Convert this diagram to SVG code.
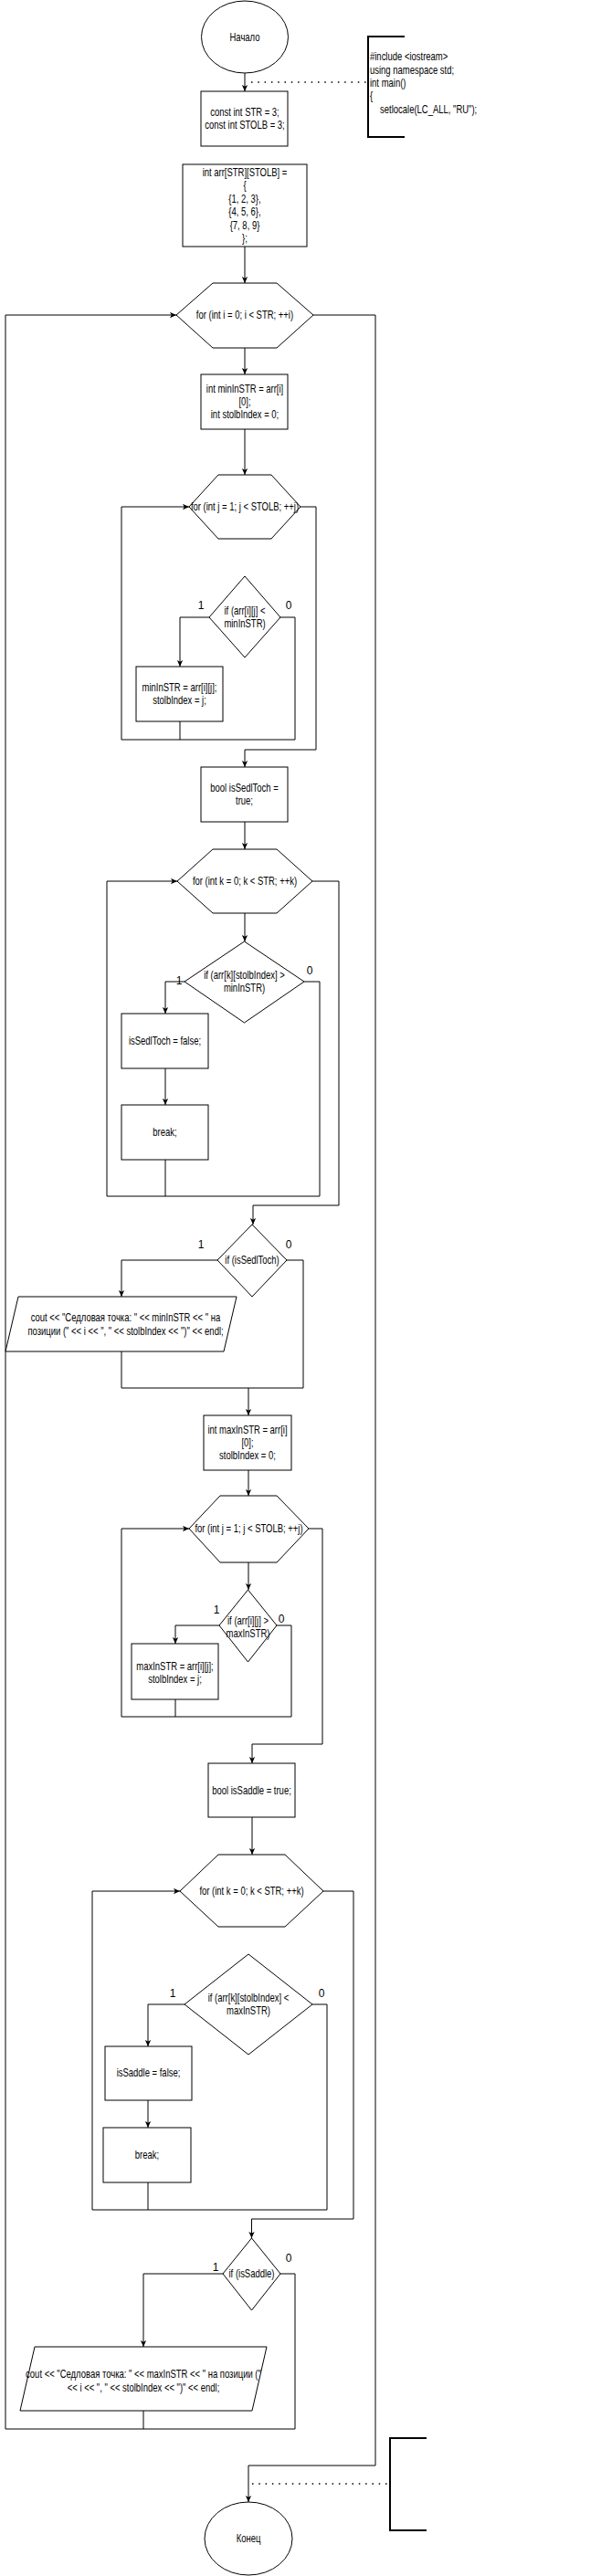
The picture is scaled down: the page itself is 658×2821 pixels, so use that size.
<svg xmlns="http://www.w3.org/2000/svg" width="658" height="2821" viewBox="0 0 658 2821">
<style>
.s{fill:#fff;stroke:#000;stroke-width:1}
.e{fill:none;stroke:#000;stroke-width:1}
.d{fill:none;stroke:#000;stroke-width:1.5;stroke-dasharray:1.5 5.8}
.b{fill:none;stroke:#000;stroke-width:2}
text{font-family:"Liberation Sans",Arial,Helvetica,sans-serif;font-size:12px;fill:#000;text-anchor:middle}
text.l{text-anchor:start}
</style>
<defs>
<marker id="a" viewBox="0 0 10 10" refX="10" refY="5" markerWidth="7" markerHeight="7" markerUnits="userSpaceOnUse" orient="auto">
<path d="M0,0.5 L10,5 L0,9.5 L2.5,5 z" fill="#000"/>
</marker>
</defs>
<rect width="658" height="2821" fill="#fff"/>

<g id="connectors">
<path class="e" d="M268,80 V100" marker-end="url(#a)"/>
<path class="d" d="M275,90 H403"/>
<path class="e" d="M268,270 V310" marker-end="url(#a)"/>
<path class="e" d="M268,381 V410" marker-end="url(#a)"/>
<path class="e" d="M268,470 V520" marker-end="url(#a)"/>
<path class="e" d="M229,676 H197 V730" marker-end="url(#a)"/>
<path class="e" d="M197,790 V810"/>
<path class="e" d="M307,676 H323 V810 H133 V555 H207" marker-end="url(#a)"/>
<path class="e" d="M329,555 H346 V821 H268 V840" marker-end="url(#a)"/>
<path class="e" d="M268,900 V930" marker-end="url(#a)"/>
<path class="e" d="M268,1000 V1031" marker-end="url(#a)"/>
<path class="e" d="M202,1075 H181 V1110" marker-end="url(#a)"/>
<path class="e" d="M181,1170 V1210" marker-end="url(#a)"/>
<path class="e" d="M181,1270 V1310"/>
<path class="e" d="M333,1075 H350 V1310 H117 V965 H194" marker-end="url(#a)"/>
<path class="e" d="M342,965 H371 V1320 H277 V1341" marker-end="url(#a)"/>
<path class="e" d="M238,1380 H133 V1420" marker-end="url(#a)"/>
<path class="e" d="M133,1480 V1520"/>
<path class="e" d="M314,1380 H332 V1520 H133"/>
<path class="e" d="M272,1520 V1550" marker-end="url(#a)"/>
<path class="e" d="M272,1610 V1638" marker-end="url(#a)"/>
<path class="e" d="M272,1711 V1741" marker-end="url(#a)"/>
<path class="e" d="M240,1780 H192 V1800" marker-end="url(#a)"/>
<path class="e" d="M192,1861 V1880"/>
<path class="e" d="M303,1780 H319 V1880 H133 V1674 H207" marker-end="url(#a)"/>
<path class="e" d="M338,1674 H353 V1910 H276 V1931" marker-end="url(#a)"/>
<path class="e" d="M276,1990 V2031" marker-end="url(#a)"/>
<path class="e" d="M202,2195 H162 V2241" marker-end="url(#a)"/>
<path class="e" d="M162,2300 V2330" marker-end="url(#a)"/>
<path class="e" d="M162,2390 V2420"/>
<path class="e" d="M342,2195 H358 V2420 H101 V2071 H197" marker-end="url(#a)"/>
<path class="e" d="M354,2071 H387 V2430 H275.5 V2451" marker-end="url(#a)"/>
<path class="e" d="M244,2490 H157 V2570" marker-end="url(#a)"/>
<path class="e" d="M157,2640 V2660"/>
<path class="e" d="M307,2490 H323 V2660 H6 V345 H193" marker-end="url(#a)"/>
<path class="e" d="M343,345 H411 V2700 H272 V2740" marker-end="url(#a)"/>
<path class="d" d="M276,2720 H426"/>
</g>

<g id="start">
<ellipse class="s" cx="268" cy="40.5" rx="47.5" ry="39.5"/>
<text transform="translate(268 0) scale(0.79 1)" x="0" y="45">Начало</text>
</g>

<g id="note1">
<path class="b" d="M443,40 H403 V150 H443"/>
<text class="l" transform="translate(405 0) scale(0.79 1)"><tspan x="0" y="66.2">#include &lt;iostream&gt;</tspan><tspan x="0" y="80.6">using namespace std;</tspan><tspan x="0" y="95">int main()</tspan><tspan x="0" y="109.4">{</tspan><tspan x="14" y="123.8">setlocale(LC_ALL, "RU");</tspan></text>
</g>

<g id="consts">
<rect class="s" x="220" y="100" width="95" height="60"/>
<text transform="translate(268 0) scale(0.79 1)"><tspan x="0" y="126.8">const int STR = 3;</tspan><tspan x="0" y="141.2">const int STOLB = 3;</tspan></text>
</g>

<g id="arr">
<rect class="s" x="200" y="180" width="136" height="90"/>
<text transform="translate(268 0) scale(0.79 1)"><tspan x="0" y="193">int arr[STR][STOLB] =</tspan><tspan x="0" y="207.4">{</tspan><tspan x="0" y="221.8">{1, 2, 3},</tspan><tspan x="0" y="236.2">{4, 5, 6},</tspan><tspan x="0" y="250.6">{7, 8, 9}</tspan><tspan x="0" y="265">};</tspan></text>
</g>

<g id="loopI">
<polygon class="s" points="233,310 303,310 343,345 303,381 233,381 193,345"/>
<text transform="translate(268 0) scale(0.79 1)" x="0" y="349">for (int i = 0; i &lt; STR; ++i)</text>
</g>

<g id="minInit">
<rect class="s" x="220" y="410" width="95" height="60"/>
<text transform="translate(268 0) scale(0.79 1)"><tspan x="0" y="429.6">int minInSTR = arr[i]</tspan><tspan x="0" y="444">[0];</tspan><tspan x="0" y="458.4">int stolbIndex = 0;</tspan></text>
</g>

<g id="loopJ1">
<polygon class="s" points="239,520 297,520 329,555 297,590 239,590 207,555"/>
<text transform="translate(268 0) scale(0.79 1)" x="0" y="559">for (int j = 1; j &lt; STOLB; ++j)</text>
</g>

<g id="ifMin">
<polygon class="s" points="268,631 307,676 268,720 229,676"/>
<text transform="translate(268 0) scale(0.79 1)"><tspan x="0" y="672.8">if (arr[i][j] &lt;</tspan><tspan x="0" y="687.2">minInSTR)</tspan></text>
<text x="220" y="667">1</text>
<text x="316" y="667">0</text>
</g>

<g id="minSet">
<rect class="s" x="149" y="730" width="95" height="60"/>
<text transform="translate(196.5 0) scale(0.79 1)"><tspan x="0" y="756.8">minInSTR = arr[i][j];</tspan><tspan x="0" y="771.2">stolbIndex = j;</tspan></text>
</g>

<g id="sedlInit">
<rect class="s" x="220" y="840" width="95" height="60"/>
<text transform="translate(267.5 0) scale(0.79 1)"><tspan x="0" y="866.8">bool isSedlToch =</tspan><tspan x="0" y="881.2">true;</tspan></text>
</g>

<g id="loopK1">
<polygon class="s" points="233,930 303,930 342,965 303,1000 233,1000 194,965"/>
<text transform="translate(268 0) scale(0.79 1)" x="0" y="969">for (int k = 0; k &lt; STR; ++k)</text>
</g>

<g id="ifGreater">
<polygon class="s" points="267.5,1031 333,1075 267.5,1120 202,1075"/>
<text transform="translate(267.5 0) scale(0.79 1)"><tspan x="0" y="1071.8">if (arr[k][stolbIndex] &gt;</tspan><tspan x="0" y="1086.2">minInSTR)</tspan></text>
<text x="196" y="1078">1</text>
<text x="339" y="1067">0</text>
</g>

<g id="sedlFalse">
<rect class="s" x="133" y="1110" width="95" height="60"/>
<text transform="translate(180.5 0) scale(0.79 1)" x="0" y="1144">isSedlToch = false;</text>
</g>

<g id="break1">
<rect class="s" x="133" y="1210" width="95" height="60"/>
<text transform="translate(180.5 0) scale(0.79 1)" x="0" y="1244">break;</text>
</g>

<g id="ifSedl">
<polygon class="s" points="276,1341 314,1380 276,1420 238,1380"/>
<text transform="translate(276 0) scale(0.79 1)" x="0" y="1384">if (isSedlToch)</text>
<text x="220" y="1367">1</text>
<text x="316" y="1367">0</text>
</g>

<g id="out1">
<polygon class="s" points="20,1420 259,1420 245,1480 6,1480"/>
<text transform="translate(137.5 0) scale(0.79 1)"><tspan x="0" y="1447">cout &lt;&lt; "Седловая точка: " &lt;&lt; minInSTR &lt;&lt; " на</tspan><tspan x="0" y="1462">позиции (" &lt;&lt; i &lt;&lt; ", " &lt;&lt; stolbIndex &lt;&lt; ")" &lt;&lt; endl;</tspan></text>
</g>

<g id="maxInit">
<rect class="s" x="223" y="1550" width="96" height="60"/>
<text transform="translate(271 0) scale(0.79 1)"><tspan x="0" y="1569.6">int maxInSTR = arr[i]</tspan><tspan x="0" y="1584">[0];</tspan><tspan x="0" y="1598.4">stolbIndex = 0;</tspan></text>
</g>

<g id="loopJ2">
<polygon class="s" points="241,1638 303,1638 338,1674 303,1711 241,1711 207,1674"/>
<text transform="translate(272.5 0) scale(0.79 1)" x="0" y="1678">for (int j = 1; j &lt; STOLB; ++j)</text>
</g>

<g id="ifMax">
<polygon class="s" points="271.5,1741 303,1780 271.5,1820 240,1780"/>
<text transform="translate(271.5 0) scale(0.79 1)"><tspan x="0" y="1779">if (arr[i][j] &gt;</tspan><tspan x="0" y="1793">maxInSTR)</tspan></text>
<text x="237" y="1767">1</text>
<text x="308" y="1777">0</text>
</g>

<g id="maxSet">
<rect class="s" x="144" y="1800" width="95" height="61"/>
<text transform="translate(191.5 0) scale(0.79 1)"><tspan x="0" y="1829">maxInSTR = arr[i][j];</tspan><tspan x="0" y="1843">stolbIndex = j;</tspan></text>
</g>

<g id="saddleInit">
<rect class="s" x="228" y="1931" width="95" height="59"/>
<text transform="translate(275.5 0) scale(0.79 1)" x="0" y="1965">bool isSaddle = true;</text>
</g>

<g id="loopK2">
<polygon class="s" points="239,2031 312,2031 354,2071 312,2110 239,2110 197,2071"/>
<text transform="translate(275.5 0) scale(0.79 1)" x="0" y="2075">for (int k = 0; k &lt; STR; ++k)</text>
</g>

<g id="ifLess">
<polygon class="s" points="272,2140 342,2195 272,2250 202,2195"/>
<text transform="translate(272 0) scale(0.79 1)"><tspan x="0" y="2191.8">if (arr[k][stolbIndex] &lt;</tspan><tspan x="0" y="2206.2">maxInSTR)</tspan></text>
<text x="189" y="2187">1</text>
<text x="352" y="2187">0</text>
</g>

<g id="saddleFalse">
<rect class="s" x="115" y="2241" width="95" height="59"/>
<text transform="translate(162.5 0) scale(0.79 1)" x="0" y="2274">isSaddle = false;</text>
</g>

<g id="break2">
<rect class="s" x="113" y="2330" width="96" height="60"/>
<text transform="translate(161 0) scale(0.79 1)" x="0" y="2364">break;</text>
</g>

<g id="ifSaddle">
<polygon class="s" points="275.5,2451 307,2490 275.5,2530 244,2490"/>
<text transform="translate(275.5 0) scale(0.79 1)" x="0" y="2494">if (isSaddle)</text>
<text x="236" y="2487">1</text>
<text x="316" y="2477">0</text>
</g>

<g id="out2">
<polygon class="s" points="38,2570 292,2570 276,2640 22,2640"/>
<text transform="translate(157 0) scale(0.79 1)"><tspan x="0" y="2604">cout &lt;&lt; "Седловая точка: " &lt;&lt; maxInSTR &lt;&lt; " на позиции ("</tspan><tspan x="0" y="2619">&lt;&lt; i &lt;&lt; ", " &lt;&lt; stolbIndex &lt;&lt; ")" &lt;&lt; endl;</tspan></text>
</g>

<g id="note2">
<path class="b" d="M467,2670 H427 V2771 H467"/>
</g>

<g id="end">
<ellipse class="s" cx="272" cy="2780" rx="48" ry="40"/>
<text transform="translate(272 0) scale(0.79 1)" x="0" y="2784">Конец</text>
</g>
</svg>
